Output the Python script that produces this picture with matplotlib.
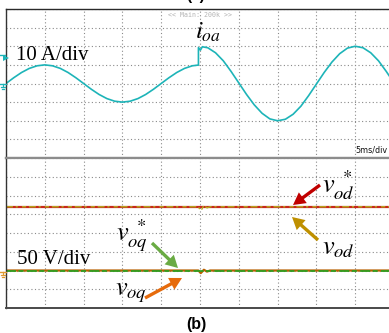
import matplotlib
matplotlib.use("Agg")
import matplotlib.pyplot as plt
from matplotlib.lines import Line2D

W, H = 389, 333

# ---------------------------------------------------------------------------
# Captured waveforms (time in ms, 5 ms/div)
# ---------------------------------------------------------------------------

# output current i_oa (A), load step just before 25 ms
t_i = [0, 1, 2, 3, 4, 5, 6, 7, 8, 9, 10, 11, 12, 13, 14, 15, 16, 17, 18, 19,
       20, 21, 22, 23, 24, 24.8, 24.8, 25.05, 25.3, 26, 27, 28, 29, 30, 31,
       32, 33, 34, 35, 36, 37, 38, 39, 40, 41, 42, 43, 44, 45, 46, 47, 48,
       49, 50]
i_oa = [0, 3.1, 5.9, 8.1, 9.5, 10.0, 9.5, 8.1, 5.9, 3.1, 0, -3.1, -5.9, -8.1,
        -9.5, -10.0, -9.5, -8.1, -5.9, -3.1, 0, 3.1, 5.9, 8.1, 9.5, 9.9, 19.3,
        17.9, 19.7, 19.2, 16.5, 12.2, 6.5, 0.3, -5.9, -11.5, -16.0, -19.0,
        -20.0, -19.2, -16.5, -12.2, -6.5, -0.3, 5.9, 11.5, 16.0, 19.0, 20.0,
        19.2, 16.5, 12.2, 6.5, 0.3]

# dq voltages (V): references and measured values
t_v = [0, 24.8, 25.1, 25.5, 25.9, 26.3, 50]
v_od_ref = [170, 170, 170, 170, 170, 170, 170]
v_od = [170, 170, 158, 174, 167, 170, 170]
v_oq_ref = [0, 0, 0, 0, 0, 0, 0]
v_oq = [0, 0, -7, 2, -3, 0, 0]

T_DIV = 5       # ms/div
I_DIV = 10      # A/div
V_DIV = 50      # V/div
N_XDIV = 10
N_YDIV = 8

TEAL = "#1db4b8"
GRID = "#8a8a8a"


def fx(px):
    return px / W


def fy(py):
    return 1 - py / H


def scope_axes(rect):
    ax = fig.add_axes(rect)
    ax.set_xlim(0, N_XDIV * T_DIV)
    ax.set_xticks([k * T_DIV for k in range(N_XDIV + 1)])
    ax.tick_params(length=0, labelbottom=False, labelleft=False)
    ax.grid(True, color=GRID, linestyle=(0, (1, 2.2)), linewidth=0.8)
    ax.spines["right"].set_visible(False)
    ax.spines["left"].set_color("#333333")
    ax.spines["left"].set_linewidth(1.0)
    return ax


fig = plt.figure(figsize=(W / 100, H / 100), dpi=100)

# panel edges in pixels: left 6, div 38.8 px; top 9..158, bottom 158..308
ax_w = N_XDIV * 38.8 / W
ax_i = scope_axes([fx(6), fy(158), ax_w, (158 - 9) / H])
ax_v = scope_axes([fx(6), fy(308), ax_w, (308 - 158) / H])

# current channel
ax_i.set_ylim(-N_YDIV / 2 * I_DIV, N_YDIV / 2 * I_DIV)
ax_i.set_yticks([I_DIV * k for k in range(-4, 5)])
ax_i.plot(t_i, i_oa, color=TEAL, lw=1.2, solid_joinstyle="round")
ax_i.spines["top"].set_color("#2a2a2a")
ax_i.spines["top"].set_linewidth(1.0)
ax_i.spines["bottom"].set_color("#8c8c8c")
ax_i.spines["bottom"].set_linewidth(1.6)

# voltage channels: ground 2 div below centre
ax_v.set_ylim(-2 * V_DIV, 6 * V_DIV)
ax_v.set_yticks([V_DIV * k for k in range(-2, 7)])
ax_v.plot(t_v, v_od_ref, color="#c8281c", lw=1.6)
ax_v.plot(t_v, v_od, color="#b4aa1e", lw=1.0, linestyle=(0, (5, 2, 1.5, 3, 3, 2)))
ax_v.plot(t_v, v_oq, color="#b86000", lw=1.6)
ax_v.plot(t_v, v_oq_ref, color="#22a322", lw=1.2, linestyle=(0, (6, 1.5, 3, 2)))
ax_v.spines["top"].set_color("#8c8c8c")
ax_v.spines["top"].set_linewidth(1.6)
ax_v.spines["bottom"].set_color("#4a4a4a")
ax_v.spines["bottom"].set_linewidth(1.4)

# channel markers on the left edge
def ground_mark(py, color):
    fig.add_artist(Line2D([fx(0), fx(6)], [fy(py), fy(py)], color=color, lw=1.0))
    fig.add_artist(Line2D([fx(3), fx(3)], [fy(py), fy(py + 3)], color=color, lw=0.9))
    fig.add_artist(Line2D([fx(1), fx(5)], [fy(py + 3), fy(py + 3)], color=color, lw=0.9))
    fig.add_artist(Line2D([fx(2), fx(4)], [fy(py + 5), fy(py + 5)], color=color, lw=0.9))


ground_mark(84, TEAL)
ground_mark(272, "#e09a30")
fig.add_artist(Line2D([fx(0), fx(5)], [fy(55), fy(55)], color=TEAL, lw=1.0))
fig.add_artist(Line2D([fx(5.5)], [fy(57.5)], marker=">", markersize=4,
                      color=TEAL, markeredgewidth=0))

# scope status text
fig.text(fx(200), fy(15), "<< Main: 200k >>", color="#b4b4b4", fontsize=4.8,
         family="DejaVu Sans Mono", ha="center", va="center")
fig.text(fx(355), fy(150), "5ms/div", color="#111111", fontsize=5.8,
         family="DejaVu Sans", ha="left", va="center")

# labels
plt.rcParams["mathtext.fontset"] = "stix"
serif = "Liberation Serif"
fig.text(fx(16), fy(60), "10 A/div", family=serif, fontsize=15, ha="left", va="baseline")
fig.text(fx(17), fy(264), "50 V/div", family=serif, fontsize=15, ha="left", va="baseline")
fig.text(fx(195), fy(39), r"$i_{oa}$", fontsize=18, ha="left", va="baseline")
fig.text(fx(116), fy(241), r"$v_{oq}^{\ *}$", fontsize=19, ha="left", va="baseline")
fig.text(fx(115), fy(295), r"$v_{oq}$", fontsize=19, ha="left", va="baseline")
fig.text(fx(322), fy(193), r"$v_{od}^{\ *}$", fontsize=19, ha="left", va="baseline")
fig.text(fx(322), fy(254), r"$v_{od}$", fontsize=19, ha="left", va="baseline")

fig.text(fx(196), fy(3), "(a)", family="Liberation Sans", weight="bold",
         fontsize=11, ha="center", va="bottom")
fig.text(fx(196), fy(324), "(b)", family="Liberation Sans", weight="bold",
         fontsize=11.5, ha="center", va="center")


# arrows pointing at the voltage traces (pixel positions)
def arrow(tail, head, color):
    fig.add_artist(matplotlib.patches.FancyArrowPatch(
        (fx(tail[0]), fy(tail[1])), (fx(head[0]), fy(head[1])),
        transform=fig.transFigure, arrowstyle="simple,head_length=1.1,head_width=1.2,tail_width=0.3",
        mutation_scale=8, color=color, lw=0, shrinkA=0, shrinkB=0))


arrow((152, 243), (178, 268), "#6aab44")
arrow((145, 298), (182, 278), "#e66b0c")
arrow((320, 185), (293, 205), "#c00000")
arrow((318, 240), (292, 217), "#bf9000")

fig.savefig("out.png", dpi=100)
